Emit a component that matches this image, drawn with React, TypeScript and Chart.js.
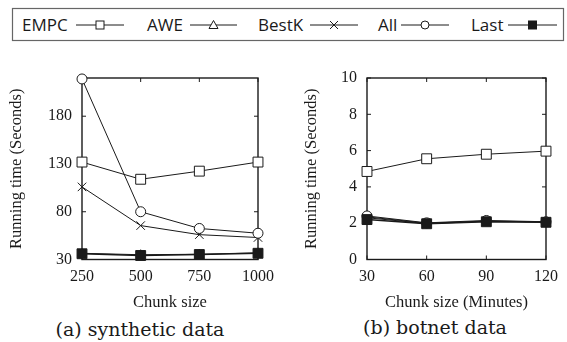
import React, { useEffect, useRef } from "react";
import { Chart, registerables } from "chart.js";

Chart.register(...registerables);

// ---------- data ----------
const chunkSizes = [250, 500, 750, 1000];
const synthEMPC = [132, 114, 122.5, 132];
const synthAWE = [36.5, 35, 35.5, 37];
const synthBestK = [106, 65.5, 56, 53];
const synthAll = [219, 80, 62.5, 57.5];
const synthLast = [36, 34.2, 35.2, 36.5];
const synthYTicks = [30, 80, 130, 180];
const synthYMin = 30;
const synthYMax = 220;

const chunkMinutes = [30, 60, 90, 120];
const botEMPC = [4.85, 5.55, 5.8, 5.97];
const botAWE = [2.35, 2.0, 2.12, 2.07];
const botBestK = [2.3, 1.98, 2.1, 2.06];
const botAll = [2.4, 2.02, 2.15, 2.08];
const botLast = [2.2, 1.97, 2.08, 2.05];
const botYTicks = [0, 2, 4, 6, 8, 10];
const botYMin = 0;
const botYMax = 10;

const seriesNames = ["EMPC", "AWE", "BestK", "All", "Last"];

const INK = "#1a1a1a";
const SERIF = "'Liberation Serif', 'Times New Roman', serif";

type Style = { pointStyle: any; radius: number; fill: string; width: number; order: number };
const styles: Style[] = [
  { pointStyle: "rect", radius: 7, fill: "#ffffff", width: 1, order: 4 },
  { pointStyle: "triangle", radius: 5, fill: "#ffffff", width: 1, order: 3 },
  { pointStyle: "crossRot", radius: 6, fill: "#ffffff", width: 1, order: 2 },
  { pointStyle: "circle", radius: 5, fill: "#ffffff", width: 1, order: 1 },
  { pointStyle: "rect", radius: 7, fill: INK, width: 1.6, order: 0 },
];

const framePlugin = {
  id: "frame",
  beforeDatasetsDraw(chart: any) {
    const { ctx, chartArea: a, scales } = chart;
    ctx.save();
    ctx.strokeStyle = INK;
    ctx.lineWidth = 1.4;
    ctx.strokeRect(a.left, a.top, a.right - a.left, a.bottom - a.top);
    ctx.lineWidth = 1;
    const tl = 4;
    ctx.beginPath();
    scales.x.ticks.forEach((t: any) => {
      const px = scales.x.getPixelForValue(t.value);
      ctx.moveTo(px, a.bottom);
      ctx.lineTo(px, a.bottom - tl);
      ctx.moveTo(px, a.top);
      ctx.lineTo(px, a.top + tl);
    });
    scales.y.ticks.forEach((t: any) => {
      const py = scales.y.getPixelForValue(t.value);
      ctx.moveTo(a.left, py);
      ctx.lineTo(a.left + tl, py);
      ctx.moveTo(a.right, py);
      ctx.lineTo(a.right - tl, py);
    });
    ctx.stroke();
    ctx.restore();
  },
};

type PanelProps = {
  xs: number[];
  series: number[][];
  yTicks: number[];
  yMin: number;
  yMax: number;
  xTitle: string;
  yAxisWidth: number;
  yTitlePad: number;
  padRight: number;
  width: number;
  height: number;
  left: number;
  top: number;
};

function Panel(p: PanelProps) {
  const ref = useRef<HTMLCanvasElement | null>(null);
  useEffect(() => {
    if (!ref.current) return;
    const tickFont = { family: SERIF, size: 16, lineHeight: 1 };
    const titleFont = { family: SERIF, size: 16.5, lineHeight: 1 };
    const chart = new Chart(ref.current, {
      type: "line",
      data: {
        datasets: p.series.map((vals, i) => ({
          label: seriesNames[i],
          data: vals.map((v, j) => ({ x: p.xs[j], y: v })),
          borderColor: INK,
          borderWidth: styles[i].width,
          pointStyle: styles[i].pointStyle,
          pointRadius: styles[i].radius,
          pointBackgroundColor: styles[i].fill,
          pointBorderColor: INK,
          pointBorderWidth: 1,
          tension: 0,
          clip: false,
          order: styles[i].order,
        })),
      },
      options: {
        animation: false,
        responsive: false,
        maintainAspectRatio: false,
        layout: { padding: { top: 16.5, right: p.padRight, bottom: 0, left: 0 } },
        plugins: { legend: { display: false }, tooltip: { enabled: false } },
        scales: {
          x: {
            type: "linear",
            min: p.xs[0],
            max: p.xs[p.xs.length - 1],
            afterBuildTicks: (s: any) => {
              s.ticks = p.xs.map((v) => ({ value: v }));
            },
            afterFit: (s: any) => {
              s.height = 55.5;
            },
            grid: { display: false, drawTicks: false },
            border: { display: false },
            ticks: {
              font: tickFont,
              color: INK,
              padding: 9,
              maxRotation: 0,
              autoSkip: false,
              callback: (v: any) => String(v),
            },
            title: {
              display: true,
              text: p.xTitle,
              font: titleFont,
              color: INK,
              padding: { top: 0, bottom: 3.75 },
            },
          },
          y: {
            type: "linear",
            min: p.yMin,
            max: p.yMax,
            afterBuildTicks: (s: any) => {
              s.ticks = p.yTicks.map((v) => ({ value: v }));
            },
            afterFit: (s: any) => {
              s.width = p.yAxisWidth;
            },
            grid: { display: false, drawTicks: false },
            border: { display: false },
            ticks: { font: tickFont, color: INK, padding: 10, autoSkip: false, callback: (v: any) => String(v) },
            title: {
              display: true,
              text: "Running time (Seconds)",
              font: titleFont,
              color: INK,
              padding: { top: p.yTitlePad, bottom: 0 },
            },
          },
        },
      },
      plugins: [framePlugin],
    } as any);
    return () => chart.destroy();
  }, []);
  return (
    <canvas
      ref={ref}
      width={p.width}
      height={p.height}
      style={{ position: "absolute", left: p.left, top: p.top, width: p.width, height: p.height }}
    />
  );
}

function LegendMarker({ kind, cx, cy }: { kind: number; cx: number; cy: number }) {
  const s = 4;
  const stroke = { stroke: INK, strokeWidth: 1, fill: "#fff" };
  if (kind === 0) return <rect x={cx - s} y={cy - s} width={2 * s} height={2 * s} {...stroke} />;
  if (kind === 1)
    return <polygon points={`${cx},${cy - s - 0.5} ${cx + s + 0.5},${cy + s - 0.5} ${cx - s - 0.5},${cy + s - 0.5}`} {...stroke} />;
  if (kind === 2)
    return (
      <path d={`M${cx - s} ${cy - s} L${cx + s} ${cy + s} M${cx + s} ${cy - s} L${cx - s} ${cy + s}`} stroke={INK} strokeWidth={1} />
    );
  if (kind === 3) return <circle cx={cx} cy={cy} r={s} {...stroke} />;
  return <rect x={cx - s} y={cy - s} width={2 * s} height={2 * s} fill={INK} stroke={INK} />;
}

const legendTextX = [22, 147, 258, 378, 471];
const legendLineX = [
  [76, 124],
  [190, 237],
  [310, 358],
  [401, 449],
  [508, 557],
];

const captionStyle: React.CSSProperties = {
  position: "absolute",
  width: 240,
  textAlign: "center",
  fontFamily: "'DejaVu Serif', serif",
  fontSize: 19,
  lineHeight: "24px",
  color: INK,
};

export default function App() {
  return (
    <div style={{ position: "absolute", left: 0, top: 0, width: 567, height: 342, background: "#fff", overflow: "hidden" }}>
      <svg width={567} height={50} style={{ position: "absolute", left: 0, top: 0 }}>
        <rect x={12.5} y={8.5} width={551} height={32} fill="none" stroke="#666" strokeWidth={1.2} />
        {seriesNames.map((n, i) => (
          <g key={n}>
            <text x={legendTextX[i]} y={30.5} fontFamily="'Open Sans', sans-serif" fontSize={17} fill={INK}>
              {n}
            </text>
            <line x1={legendLineX[i][0]} y1={25} x2={legendLineX[i][1]} y2={25} stroke={INK} strokeWidth={1} />
            <LegendMarker kind={i} cx={(legendLineX[i][0] + legendLineX[i][1]) / 2} cy={25} />
          </g>
        ))}
      </svg>
      <Panel
        xs={chunkSizes}
        series={[synthEMPC, synthAWE, synthBestK, synthAll, synthLast]}
        yTicks={synthYTicks}
        yMin={synthYMin}
        yMax={synthYMax}
        xTitle="Chunk size"
        yAxisWidth={82}
        yTitlePad={8.25}
        padRight={32}
        width={290}
        height={255}
        left={0}
        top={60}
      />
      <Panel
        xs={chunkMinutes}
        series={[botEMPC, botAWE, botBestK, botAll, botLast]}
        yTicks={botYTicks}
        yMin={botYMin}
        yMax={botYMax}
        xTitle="Chunk size (Minutes)"
        yAxisWidth={77}
        yTitlePad={13.75}
        padRight={14}
        width={277}
        height={255}
        left={290}
        top={60}
      />
      <div style={{ ...captionStyle, left: 20, top: 317 }}>(a) synthetic data</div>
      <div style={{ ...captionStyle, left: 315, top: 315 }}>(b) botnet data</div>
    </div>
  );
}
